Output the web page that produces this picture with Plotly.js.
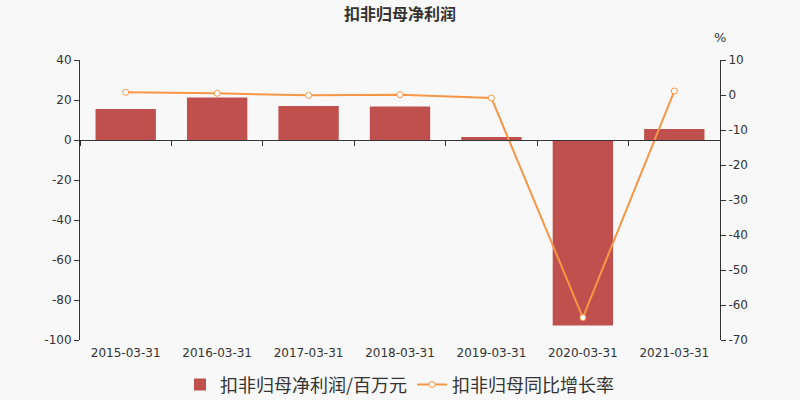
<!DOCTYPE html>
<html><head><meta charset="utf-8">
<script src="https://cdn.plot.ly/plotly-3.0.1.min.js"></script>
<style>html,body{margin:0;padding:0;background:#f8f8f8;}#chart{width:800px;height:400px;}</style>
</head><body><div id="chart"></div>
<script>
const categories = ['2015-03-31','2016-03-31','2017-03-31','2018-03-31','2019-03-31','2020-03-31','2021-03-31'];
const profit = [15.5, 21.3, 17.0, 16.7, 1.5, -92.8, 5.5];
const growth = [0.77, 0.48, -0.1, 0.1, -0.86, -63.6, 1.14];
const leftTicks = [40, 20, 0, -20, -40, -60, -80, -100];
const rightTicks = [10, 0, -10, -20, -30, -40, -50, -60, -70];

const font = "'DejaVu Sans', 'Noto Sans CJK SC', sans-serif";
const cjk = "'Noto Sans CJK SC', 'DejaVu Sans', sans-serif";
const lbl = v => String(v);

const traces = [
  {type:'bar', x:categories, y:profit, name:'扣非归母净利润/百万元',
   marker:{color:'#c0504d'}, xaxis:'x', yaxis:'y'},
  {type:'scatter', mode:'lines+markers', x:categories, y:growth, name:'扣非归母同比增长率',
   line:{color:'#f79646', width:2},
   marker:{color:'#ffffff', size:6, line:{color:'#f79646', width:1}},
   xaxis:'x2', yaxis:'y2'}
];

const layout = {
  width:800, height:400,
  paper_bgcolor:'#f8f8f8', plot_bgcolor:'#f8f8f8',
  margin:{l:80, r:80, t:60, b:60, autoexpand:false},
  font:{family:font, size:12, color:'#333'},
  title:{text:'<b>扣非归母净利润</b>', x:0.5, xanchor:'center', yref:'container', y:0.965, yanchor:'middle',
         font:{family:cjk, size:16, color:'#333'}},
  bargap:0.34,
  showlegend:true,
  legend:{orientation:'h', x:0.5, xanchor:'center', yref:'container', y:0.038, yanchor:'middle',
          font:{family:cjk, size:18, color:'#333'}, bgcolor:'rgba(0,0,0,0)'},
  xaxis:{type:'category', showline:false, showgrid:false, zeroline:false, ticks:'',
         ticklabelstandoff:4,
         tickfont:{size:12, color:'#333'}, range:[-0.5, 6.5], fixedrange:true},
  xaxis2:{type:'category', overlaying:'x', matches:'x', anchor:'free',
          position:(0-(-100))/(40-(-100)), showline:true, linecolor:'#333', linewidth:1,
          showticklabels:false, ticks:'outside', ticklen:5, tickcolor:'#333',
          tickson:'boundaries', showgrid:false, zeroline:false},
  yaxis:{range:[-100, 40], tickvals:leftTicks, ticktext:leftTicks.map(lbl), showgrid:false, zeroline:false,
         showline:true, linecolor:'#333', linewidth:1, ticks:'outside', ticklen:5,
         tickcolor:'#333', tickfont:{size:12, color:'#333'}},
  yaxis2:{range:[-70, 10], tickvals:rightTicks, ticktext:rightTicks.map(lbl), overlaying:'y', side:'right', anchor:'x',
          showgrid:false, zeroline:false, showline:true, linecolor:'#333', linewidth:1,
          ticks:'outside', ticklen:5, tickcolor:'#333', tickfont:{size:12, color:'#333'}},
  annotations:[{text:'%', xref:'paper', yref:'paper', x:1, y:1.08, xanchor:'center',
                yanchor:'middle', showarrow:false, font:{size:13, color:'#333'}}]
};

Plotly.newPlot('chart', traces, layout, {displayModeBar:false, staticPlot:true});
</script></body></html>
